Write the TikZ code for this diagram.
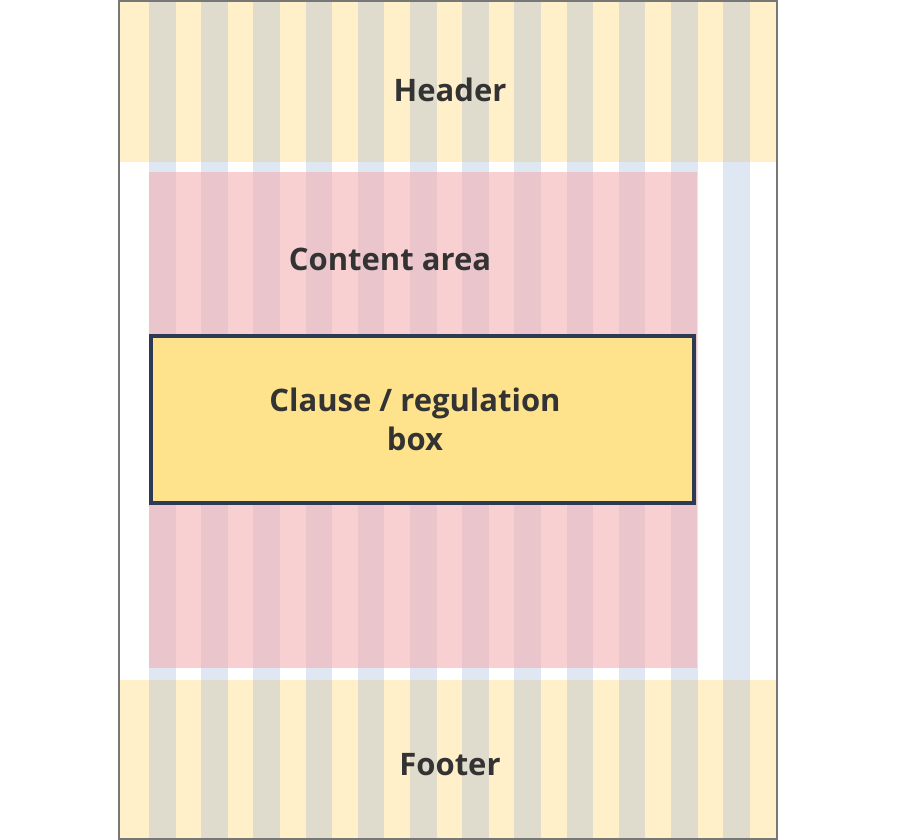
\documentclass[tikz,border=0pt]{standalone}
\usepackage{fontspec}
\setmainfont{Open Sans}
\definecolor{pageline}{HTML}{777777}
\definecolor{bandyellow}{HTML}{FFF0C9}
\definecolor{colblue}{RGB}{150,175,215}
\definecolor{areapink}{RGB}{243,172,175}
\definecolor{clausefill}{HTML}{FFE28C}
\definecolor{clauseline}{HTML}{2D3A55}
\definecolor{labeltext}{HTML}{333333}
\begin{document}
\begin{tikzpicture}[x=1pt,y=-1pt,
    band/.style={fill=bandyellow,draw=none},
    gridcol/.style={fill=colblue,fill opacity=0.3,draw=none},
    area/.style={fill=areapink,fill opacity=0.56,draw=none},
    clause/.style={fill=clausefill,draw=clauseline,line width=3.5pt},
    lbl/.style={text=labeltext,font=\fontsize{31}{39}\selectfont\bfseries,inner sep=0pt},
    every node/.style={align=center}]
  \useasboundingbox (0,0) rectangle (900,840);
  % header and footer bands
  \fill[band] (119,0) rectangle (777,162);
  \fill[band] (119,680) rectangle (777,840);
  % the twelve columns of the grid
  \foreach \i in {0,...,11}{
    \fill[gridcol] ({149+52.2*\i},0) rectangle ++(26.5,840);
  }
  % content area over the columns
  \fill[area] (149,172) rectangle (697,668);
  % the clause box
  \draw[clause] (151,336) rectangle (694,503);
  % page edge
  \draw[pageline,line width=2pt] (119,1) rectangle (777,839);
  % labels
  \node[lbl] (header) at (450,90) {Header};
  \node[lbl] (content) at (390,259) {Content area};
  \node[lbl] (clausebox) at (415,419) {Clause / regulation\\box};
  \node[lbl] (footer) at (450,765) {Footer};
\end{tikzpicture}
\end{document}
